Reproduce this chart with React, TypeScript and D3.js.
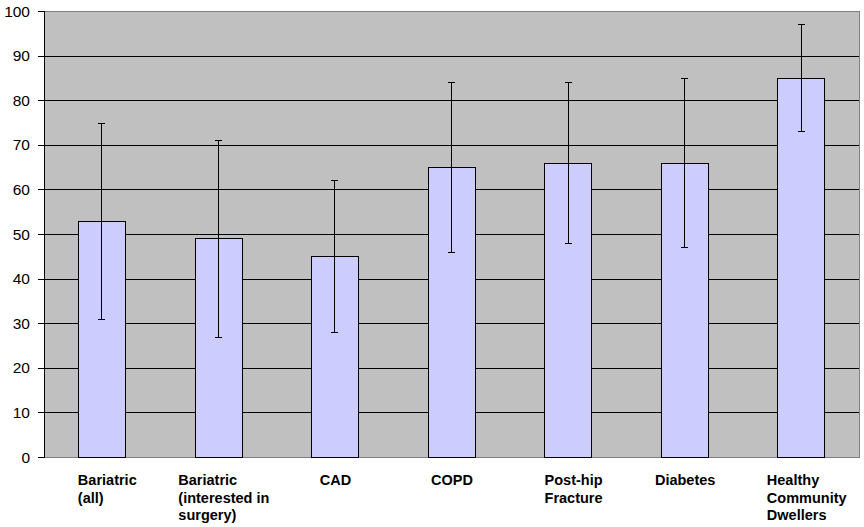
import React from "react";
import * as d3 from "d3";

const categories: string[][] = [
  ["Bariatric", "(all)"],
  ["Bariatric", "(interested in", "surgery)"],
  ["CAD"],
  ["COPD"],
  ["Post-hip", "Fracture"],
  ["Diabetes"],
  ["Healthy", "Community", "Dwellers"],
];
const values: number[] = [53, 49, 45, 65, 66, 66, 85];
const errLow: number[] = [31, 27, 28, 46, 48, 47, 73];
const errHigh: number[] = [75, 71, 62, 84, 84, 85, 97];
const yTicks: number[] = [0, 10, 20, 30, 40, 50, 60, 70, 80, 90, 100];

const W = 864;
const H = 527;
const left = 44;
const right = 860;
const top = 11;
const bottom = 457;
const labelFont = "bold 14.5px 'Liberation Sans', Arial, sans-serif";

function measure(text: string): number {
  if (typeof document === "undefined") return text.length * 8;
  const c = document.createElement("canvas");
  const ctx = c.getContext("2d");
  if (!ctx) return text.length * 8;
  ctx.font = labelFont;
  return ctx.measureText(text).width;
}

export default function App() {
  const ids = categories.map((_, i) => String(i));
  const x = d3.scaleBand<string>().domain(ids).range([left, right]).paddingInner(0.6).paddingOuter(0.3);
  const y = d3.scaleLinear().domain([0, 100]).range([bottom, top]);
  const crisp = (v: number) => Math.round(v) + 0.5;

  return (
    <svg width={W} height={H} style={{ position: "absolute", left: 0, top: 0, background: "#ffffff" }}>
      <rect x={left} y={top} width={right - left} height={bottom - top} fill="#c0c0c0" />
      {yTicks.filter((t) => t > 0 && t < 100).map((t) => (
        <line key={"g" + t} x1={left} x2={right} y1={crisp(y(t))} y2={crisp(y(t))} stroke="#000" strokeWidth={1} />
      ))}
      <rect x={left + 0.5} y={top + 0.5} width={right - left - 1} height={bottom - top} fill="none" stroke="#808080" strokeWidth={1} />
      {values.map((v, i) => {
        const bx = x(String(i))! - 1;
        const bw = x.bandwidth();
        return (
          <rect
            key={"b" + i}
            x={Math.round(bx) + 0.5}
            y={crisp(y(v))}
            width={Math.round(bw)}
            height={Math.round(y(0)) - Math.round(y(v))}
            fill="#ccccff"
            stroke="#000"
            strokeWidth={1}
          />
        );
      })}
      {values.map((_, i) => {
        const cx = crisp(x(String(i))! - 1 + x.bandwidth() / 2);
        const yl = crisp(y(errLow[i]));
        const yh = crisp(y(errHigh[i]));
        return (
          <g key={"e" + i} stroke="#000" strokeWidth={1}>
            <line x1={cx} x2={cx} y1={yh} y2={yl} />
            <line x1={cx - 3.5} x2={cx + 3.5} y1={yh} y2={yh} />
            <line x1={cx - 3.5} x2={cx + 3.5} y1={yl} y2={yl} />
          </g>
        );
      })}
      <line x1={left + 0.5} x2={left + 0.5} y1={top} y2={bottom + 1} stroke="#000" strokeWidth={1} />
      {yTicks.map((t) => (
        <g key={"t" + t}>
          <line x1={38} x2={left} y1={crisp(y(t))} y2={crisp(y(t))} stroke="#000" strokeWidth={1} />
          <text
            x={30}
            y={y(t) + 5.5}
            textAnchor="end"
            fontFamily="'Liberation Sans', Arial, sans-serif"
            fontSize={15.5}
            fill="#000"
          >
            {t}
          </text>
        </g>
      ))}
      {categories.map((lines, i) => {
        const cx = x(String(i))! + x.bandwidth() / 2;
        const mw = Math.max(...lines.map(measure));
        const lx = cx - mw / 2 + (lines.length > 1 ? 5 : 0);
        return (
          <text
            key={"c" + i}
            fontFamily="'Liberation Sans', Arial, sans-serif"
            fontWeight="bold"
            fontSize={14.5}
            fill="#000"
          >
            {lines.map((l, j) => (
              <tspan key={j} x={lx} y={485 + j * 17.5}>
                {l}
              </tspan>
            ))}
          </text>
        );
      })}
    </svg>
  );
}
